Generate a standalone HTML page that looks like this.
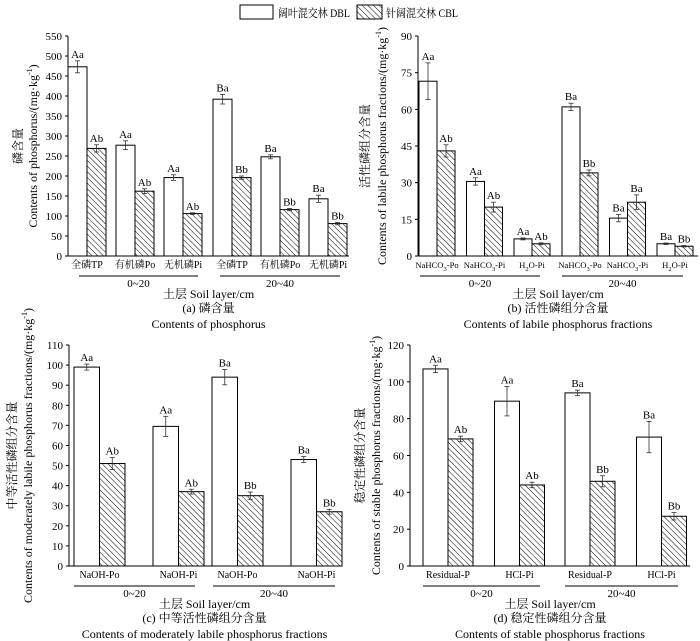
<!DOCTYPE html>
<html><head><meta charset="utf-8"><style>
html,body{margin:0;padding:0;background:#fff}
svg{display:block}
text{font-family:"Liberation Serif","Noto Serif CJK SC","Noto Sans CJK SC",serif;fill:#000}
</style></head><body>
<svg id="fig" width="700" height="641" viewBox="0 0 700 641" xmlns="http://www.w3.org/2000/svg">
<defs>
<pattern id="hatch" patternUnits="userSpaceOnUse" width="4" height="4" patternTransform="rotate(-45)">
<rect width="4" height="4" fill="#fff"/>
<line x1="0" y1="0" x2="0" y2="4" stroke="#000" stroke-width="1"/>
</pattern>
</defs>
<g>
<rect x="240" y="5" width="33" height="14" fill="#fff" stroke="#000"/>
<text x="278" y="17" font-size="11.5" textLength="72" lengthAdjust="spacingAndGlyphs">阔叶混交林 DBL</text>
<rect x="357" y="5" width="25" height="14" fill="url(#hatch)" stroke="#000"/>
<text x="386" y="17" font-size="11.5" textLength="72" lengthAdjust="spacingAndGlyphs">针阔混交林 CBL</text>
</g>
</svg>
<script>
// Panel (a)
const aCats = ["全磷TP","有机磷Po","无机磷Pi","全磷TP","有机磷Po","无机磷Pi"];
const aDBL = [473,277,196,392,248,143];
const aDBLerr = [15,11,7,12,5,9];
const aCBL = [269,162,106,196,116,81];
const aCBLerr = [9,6,2,4,3,3];
const aDBLlab = ["Aa","Aa","Aa","Ba","Ba","Ba"];
const aCBLlab = ["Ab","Ab","Ab","Bb","Bb","Bb"];
const aTicks = [0,50,100,150,200,250,300,350,400,450,500,550];
// Panel (b)
const bCats = ["NaHCO3-Po","NaHCO3-Pi","H2O-Pi","NaHCO3-Po","NaHCO3-Pi","H2O-Pi"];
const bDBL = [71.5,30.5,7,61,15.5,5];
const bDBLerr = [7.5,1.5,0.4,1.5,1.5,0.3];
const bCBL = [43,20,5,34,22,4];
const bCBLerr = [2.5,2,0.4,1.2,3,0.3];
const bDBLlab = ["Aa","Aa","Aa","Ba","Ba","Ba"];
const bCBLlab = ["Ab","Ab","Ab","Bb","Ba","Bb"];
const bTicks = [0,15,30,45,60,75,90];
// Panel (c)
const cCats = ["NaOH-Po","NaOH-Pi","NaOH-Po","NaOH-Pi"];
const cDBL = [99,69.5,94,53];
const cDBLerr = [1.5,5,3.8,1.5];
const cCBL = [51,37,35,27];
const cCBLerr = [3,1.2,1.8,1.2];
const cDBLlab = ["Aa","Aa","Ba","Ba"];
const cCBLlab = ["Ab","Ab","Bb","Bb"];
const cTicks = [0,10,20,30,40,50,60,70,80,90,100,110];
// Panel (d)
const dCats = ["Residual-P","HCl-Pi","Residual-P","HCl-Pi"];
const dDBL = [107,89.5,94,70];
const dDBLerr = [2,8,1.5,8.5];
const dCBL = [69,44,46,27];
const dCBLerr = [1.5,1.5,3,2];
const dDBLlab = ["Aa","Aa","Ba","Ba"];
const dCBLlab = ["Ab","Ab","Bb","Bb"];
const dTicks = [0,20,40,60,80,100,120];

const NS="http://www.w3.org/2000/svg";
const svg=document.getElementById('fig');
function mk(tag,attrs,parent){const e=document.createElementNS(NS,tag);for(const k in attrs)e.setAttribute(k,attrs[k]);(parent||svg).appendChild(e);return e;}

function catLabel(g,x,y,s,fs){
  const t=mk('text',{x:x,y:y,'font-size':fs,'text-anchor':'middle'},g);
  
  
  const m=s.match(/^(NaHCO|H)(\d)(.*)$/);
  if(m){
    t.appendChild(document.createTextNode(m[1]));
    const sub=mk('tspan',{'font-size':6.5,dy:3},t);sub.textContent=m[2];
    const rest=mk('tspan',{dy:-3},t);rest.textContent=m[3];
  } else t.textContent=s;
}

function panel(o){
  const g=mk('g',{});
  
  
  const max=o.ticks[o.ticks.length-1];
  const y=v=>o.y0-(v/max)*(o.y0-o.y1);
  const n=o.cats.length, half=n/2;
  const xOf=i=> i<half ? o.x0+i*o.step : o.x2+(i-half)*o.step;
  const ya=mk('line',{x1:o.ax,y1:o.y1,x2:o.ax,y2:o.y0,stroke:'#000','stroke-width':1},g);
  
  const xa=mk('line',{x1:o.ax,y1:o.y0,x2:o.xend,y2:o.y0,stroke:'#000','stroke-width':1},g);
  
  o.ticks.forEach(t=>{
    mk('line',{x1:o.ax-3,x2:o.ax,y1:y(t),y2:y(t),stroke:'#000'},g);
    const tl=mk('text',{x:o.ax-6,y:y(t)+4,'font-size':11,'text-anchor':'end'},g);
    
    tl.textContent=t;
  });
  for(let i=0;i<n;i++){
    const x=xOf(i);
    [[o.d,o.de,o.dl,'#fff','dbl'],[o.c,o.ce,o.cl,'url(#hatch)','cbl']].forEach((s,k)=>{
      const bx=x+k*o.bw, v=s[0][i], e=s[1][i];
      const r=mk('rect',{x:bx,y:y(v),width:o.bw,height:o.y0-y(v),fill:s[3],stroke:'#000','stroke-width':1},g);
      
      
      const cx=bx+o.bw/2;
      mk('line',{x1:cx,x2:cx,y1:y(v+e),y2:y(v-e),stroke:'#333','stroke-width':0.8},g);
      mk('line',{x1:cx-2.5,x2:cx+2.5,y1:y(v+e),y2:y(v+e),stroke:'#333','stroke-width':0.8},g);
      mk('line',{x1:cx-2.5,x2:cx+2.5,y1:y(v-e),y2:y(v-e),stroke:'#333','stroke-width':0.8},g);
      const lt=mk('text',{x:cx,y:y(v+e)-3,'font-size':11,'text-anchor':'middle'},g);
      
      
      lt.textContent=s[2][i];
    });
    catLabel(g,x+o.bw,o.y0+12,o.cats[i],o.tfs);
  }
  [[o.g1a,o.g1b,'0~20'],[o.g2a,o.g2b,'20~40']].forEach(gg=>{
    const l=mk('line',{x1:gg[0],x2:gg[1],y1:o.y0+20,y2:o.y0+20,stroke:'#000'},g);
    
    const t=mk('text',{x:(gg[0]+gg[1])/2,y:o.y0+31,'font-size':11,'text-anchor':'middle'},g);
    
    t.textContent=gg[2];
  });
  const mid=(o.ax+o.xend)/2;
  const xt=mk('text',{x:mid,y:o.y0+42,'font-size':12,'text-anchor':'middle'},g);
  
  xt.textContent='土层 Soil layer/cm';
  const c1=mk('text',{x:mid,y:o.y0+56,'font-size':12,'text-anchor':'middle'},g);
  
  c1.textContent=o.cap1;
  const c2=mk('text',{x:mid,y:o.y0+72,'font-size':12,'text-anchor':'middle'},g);
  
  c2.textContent=o.cap2;
  const ymid=(o.y0+o.y1)/2;
  const t1=mk('text',{x:0,y:0,'font-size':12,'text-anchor':'middle',transform:`translate(${o.tx1},${ymid}) rotate(-90)`},g);
  
  t1.textContent=o.yt1;
  const t2=mk('text',{x:0,y:0,'font-size':12,'text-anchor':'middle',transform:`translate(${o.tx2},${ymid}) rotate(-90)`},g);
  
  t2.appendChild(document.createTextNode(o.yt2));
  const sp=mk('tspan',{'font-size':8,dy:-5},t2);sp.textContent='-1';
  const sp2=mk('tspan',{dy:5},t2);sp2.textContent=')';
}

panel({name:'panel-a-phosphorus',cats:aCats,d:aDBL,de:aDBLerr,c:aCBL,ce:aCBLerr,dl:aDBLlab,cl:aCBLlab,ticks:aTicks,
  ax:68,xend:349,y0:256,y1:36,x0:68,x2:213,step:48,bw:19,g1a:79,g1b:198,g2a:220,g2b:340,tfs:10,
  cap1:'(a) 磷含量',cap2:'Contents of phosphorus',tx1:22,tx2:37,
  yt1:'磷含量',yt2:'Contents of phosphorus/(mg·kg'});
panel({name:'panel-b-labile',cats:bCats,d:bDBL,de:bDBLerr,c:bCBL,ce:bCBLerr,dl:bDBLlab,cl:bCBLlab,ticks:bTicks,
  ax:418,xend:698,y0:256,y1:36,x0:419,x2:562,step:47.5,bw:18,g1a:420,g1b:540,g2a:562,g2b:683,tfs:8.6,
  cap1:'(b) 活性磷组分含量',cap2:'Contents of labile phosphorus fractions',tx1:369,tx2:386,
  yt1:'活性磷组分含量',yt2:'Contents of labile phosphorus fractions/(mg·kg'});
panel({name:'panel-c-moderately-labile',cats:cCats,d:cDBL,de:cDBLerr,c:cCBL,ce:cCBLerr,dl:cDBLlab,cl:cCBLlab,ticks:cTicks,
  ax:69,xend:340,y0:566,y1:345,x0:74,x2:212,step:79,bw:25.5,g1a:74,g1b:195,g2a:213,g2b:335,tfs:10,
  cap1:'(c) 中等活性磷组分含量',cap2:'Contents of moderately labile phosphorus fractions',tx1:16,tx2:32,
  yt1:'中等活性磷组分含量',yt2:'Contents of moderately labile phosphorus fractions/(mg·kg'});
panel({name:'panel-d-stable',cats:dCats,d:dDBL,de:dDBLerr,c:dCBL,ce:dCBLerr,dl:dDBLlab,cl:dCBLlab,ticks:dTicks,
  ax:410,xend:690,y0:566,y1:345,x0:423,x2:565,step:71.5,bw:25,g1a:423,g1b:540,g2a:565,g2b:678,tfs:10,
  cap1:'(d) 稳定性磷组分含量',cap2:'Contents of stable phosphorus fractions',tx1:364,tx2:380,
  yt1:'稳定性磷组分含量',yt2:'Contents of stable phosphorus fractions/(mg·kg'});
</script>
</body></html>
